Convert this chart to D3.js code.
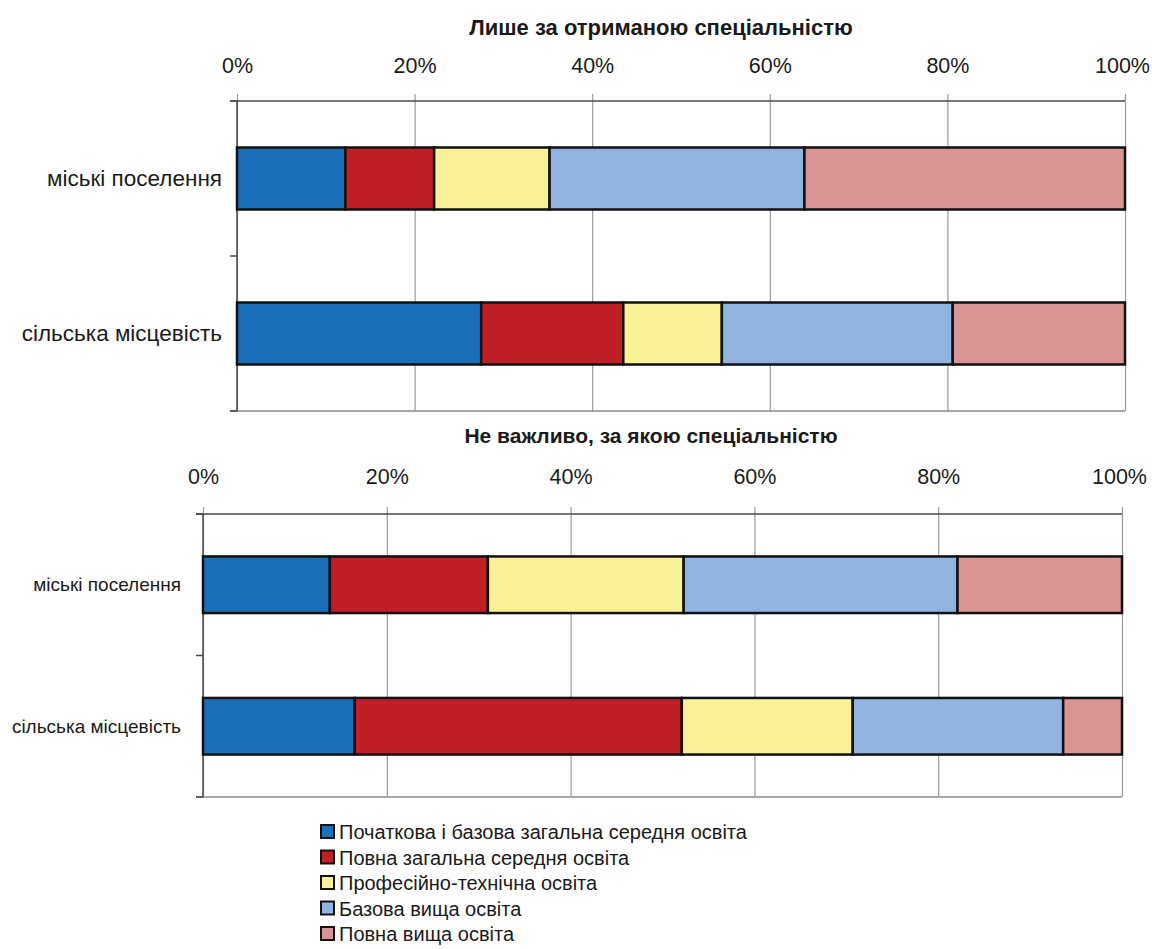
<!DOCTYPE html>
<html>
<head>
<meta charset="utf-8">
<script src="https://cdn.jsdelivr.net/npm/d3@7"></script>
<style>
  body { margin: 0; background: #fff; }
  text { font-family: "Liberation Sans", Arial, sans-serif; fill: #1a1a1a; }
</style>
</head>
<body>
<div id="chart"></div>
<script>
// education level series (stack order)
const seriesNames = [
    "Початкова і базова загальна середня освіта",
    "Повна загальна середня освіта",
    "Професійно-технічна освіта",
    "Базова вища освіта",
    "Повна вища освіта"
];
const seriesColors = ["#1b6fb8", "#c01f27", "#f9f198", "#91b3df", "#d99596"];

const categories = ["міські поселення", "сільська місцевість"];
const xTicks = [0, 20, 40, 60, 80, 100];

// panel 1: "Лише за отриманою спеціальністю" (percent per series)
const title1 = "Лише за отриманою спеціальністю";
const urban1 = [12.2, 10.0, 13.0, 28.7, 36.1];
const rural1 = [27.5, 16.0, 11.1, 26.0, 19.4];

// panel 2: "Не важливо, за якою спеціальністю"
const title2 = "Не важливо, за якою спеціальністю";
const urban2 = [13.8, 17.2, 21.3, 29.8, 17.9];
const rural2 = [16.5, 35.6, 18.6, 22.9, 6.4];

const W = 1152, H = 949;
const svg = d3.select("#chart").append("svg")
    .attr("width", W).attr("height", H);

function drawPanel(cfg) {
    const g = svg.append("g");
    const x = d3.scaleLinear().domain([0, 100]).range([cfg.left, cfg.right]);
    const y = d3.scaleBand().domain(categories)
        .range([cfg.top, cfg.bottom]).paddingInner(0.6).paddingOuter(0.3);

    // title
    g.append("text")
        .attr("x", cfg.titleX).attr("y", cfg.titleY)
        .attr("text-anchor", "middle")
        .attr("font-size", cfg.titleSize).attr("font-weight", "bold")
        .text(cfg.title);

    // grid + top axis
    const axis = g.append("g")
        .attr("transform", `translate(0,${cfg.top})`)
        .call(d3.axisTop(x).tickValues(xTicks)
            .tickSizeInner(-(cfg.bottom - cfg.top)).tickSizeOuter(0)
            .tickPadding(cfg.tickPad).tickFormat(d => d + "%"));
    axis.select(".domain").remove();
    axis.selectAll(".tick line").attr("y1", -7).attr("stroke", "#9a9a9a").attr("stroke-width", 1.2);
    axis.selectAll(".tick text").attr("font-size", cfg.tickSize).attr("fill", "#1a1a1a")
        .attr("font-family", "Liberation Sans, Arial, sans-serif")
        .attr("dx", d => d === 100 ? -3 : 0);

    // frame lines
    g.append("line").attr("x1", cfg.left - 7).attr("x2", cfg.right)
        .attr("y1", cfg.top).attr("y2", cfg.top).attr("stroke", "#4a4a4a").attr("stroke-width", 1.5);
    g.append("line").attr("x1", cfg.left - 7).attr("x2", cfg.right)
        .attr("y1", cfg.bottom).attr("y2", cfg.bottom).attr("stroke", "#8a8a8a").attr("stroke-width", 1.5);
    g.append("line").attr("x1", cfg.left).attr("x2", cfg.left)
        .attr("y1", cfg.top).attr("y2", cfg.bottom).attr("stroke", "#4a4a4a").attr("stroke-width", 1.5);

    // left ticks at category boundaries
    const mid = (y(categories[0]) + y.bandwidth() + y(categories[1])) / 2;
    g.selectAll(".ytick").data([cfg.top, mid, cfg.bottom]).enter().append("line")
        .attr("x1", cfg.left - 7).attr("x2", cfg.left)
        .attr("y1", d => d).attr("y2", d => d)
        .attr("stroke", "#4a4a4a").attr("stroke-width", 1.5);

    // category labels
    g.selectAll(".cat").data(categories).enter().append("text")
        .attr("x", cfg.labelX)
        .attr("y", d => y(d) + y.bandwidth() / 2)
        .attr("dy", "0.35em")
        .attr("text-anchor", "end")
        .attr("font-size", cfg.labelSize)
        .text(d => d);

    // stacked bars
    const rows = categories.map((c, i) => {
        const vals = cfg.values[i];
        const obj = { cat: c };
        seriesNames.forEach((s, j) => obj[s] = vals[j]);
        return obj;
    });
    const stacked = d3.stack().keys(seriesNames)(rows);
    g.selectAll(".layer").data(stacked).enter().append("g")
        .attr("fill", (d, i) => seriesColors[i])
        .selectAll("rect").data(d => d).enter().append("rect")
        .attr("x", d => x(d[0]))
        .attr("width", d => x(d[1]) - x(d[0]))
        .attr("y", d => y(d.data.cat))
        .attr("height", y.bandwidth())
        .attr("stroke", "#111").attr("stroke-width", 2.5);
}

drawPanel({
    title: title1, titleX: 661, titleY: 35, titleSize: 22,
    left: 237, right: 1125, top: 101, bottom: 411,
    tickPad: 28, tickSize: 21.5, labelX: 222, labelSize: 22.5,
    values: [urban1, rural1]
});

drawPanel({
    title: title2, titleX: 651, titleY: 443, titleSize: 21,
    left: 203, right: 1122, top: 514, bottom: 797,
    tickPad: 30, tickSize: 21.5, labelX: 181, labelSize: 19,
    values: [urban2, rural2]
});

// legend
const legend = svg.append("g").attr("transform", "translate(320,832)");
const li = legend.selectAll(".li").data(seriesNames).enter().append("g")
    .attr("transform", (d, i) => `translate(0,${i * 25.5})`);
li.append("rect").attr("x", 1).attr("y", -7).attr("width", 13).attr("height", 13)
    .attr("fill", (d, i) => seriesColors[i]).attr("stroke", "#111").attr("stroke-width", 2);
li.append("text").attr("x", 19).attr("y", 0).attr("dy", "0.35em")
    .attr("font-size", 20).text(d => d);
</script>
</body>
</html>
